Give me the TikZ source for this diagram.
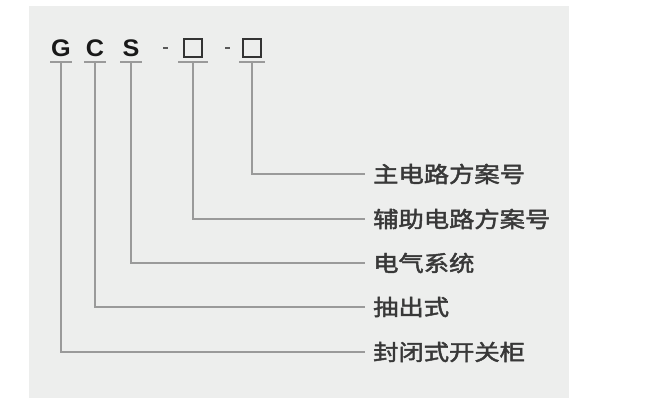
\documentclass[tikz,border=0pt]{standalone}
\usepackage{fontspec}
\setmainfont{Liberation Sans}
\newfontfamily\cjk[FakeStretch=1.15,FakeBold=2]{Noto Sans CJK SC}
\newfontfamily\codefont[FakeStretch=1.05]{Liberation Sans}
\usetikzlibrary{positioning}

\definecolor{panelgray}{HTML}{EDEEED}
\definecolor{leadgray}{HTML}{9A9A9A}
\definecolor{labelgray}{HTML}{383838}

\tikzset{
  code/.style={anchor=base, inner sep=0pt, text=black!90,
    font=\codefont\bfseries\fontsize{24}{26}\selectfont},
  codebox/.style={draw=black!80, line width=2pt, inner sep=0pt,
    minimum width=18pt, minimum height=18pt},
  dashmark/.style={black!65, line width=2pt},
  tick/.style={leadgray, line width=1.4pt},
  lead/.style={leadgray, line width=1.4pt},
  partlabel/.style={anchor=west, inner xsep=8pt, inner ysep=0pt, text=labelgray,
    font=\cjk\fontsize{22}{24}\selectfont},
}

\begin{document}
\begin{tikzpicture}[x=1pt, y=-1pt]
\fill[white] (0,0) rectangle (646,404);
\fill[panelgray] (29,6) rectangle (569,398);

% type code
\node[code] (g) at (61,57) {G};
\node[code] (c) at (95,57) {C};
\node[code] (s) at (131,57) {S};
\node[codebox] (b1) at (193,48) {};
\node[codebox] (b2) at (252,48) {};
\coordinate (d1) at (165.5,48);
\coordinate (d2) at (227.5,48);
\draw[dashmark] ([xshift=-2.5pt]d1) -- ([xshift=2.5pt]d1);
\draw[dashmark] ([xshift=-2.5pt]d2) -- ([xshift=2.5pt]d2);

% underline level
\coordinate (base) at (0,62);
\foreach \n/\w in {g/11pt,c/11pt,s/11pt,b1/15pt,b2/13pt}
  \draw[tick] ([xshift=-\w]\n |- base) -- ([xshift=\w]\n |- base);

% meanings
\node[partlabel] (main) at (365,174) {主电路方案号};
\node[partlabel] (aux) at (365,219) {辅助电路方案号};
\node[partlabel] (elec) at (365,263) {电气系统};
\node[partlabel] (draw) at (365,307) {抽出式};
\node[partlabel] (encl) at (365,352) {封闭式开关柜};

% leaders
\draw[lead] (b2 |- base) |- (main.west);
\draw[lead] (b1 |- base) |- (aux.west);
\draw[lead] (s |- base) |- (elec.west);
\draw[lead] (c |- base) |- (draw.west);
\draw[lead] (g |- base) |- (encl.west);
\end{tikzpicture}
\end{document}
